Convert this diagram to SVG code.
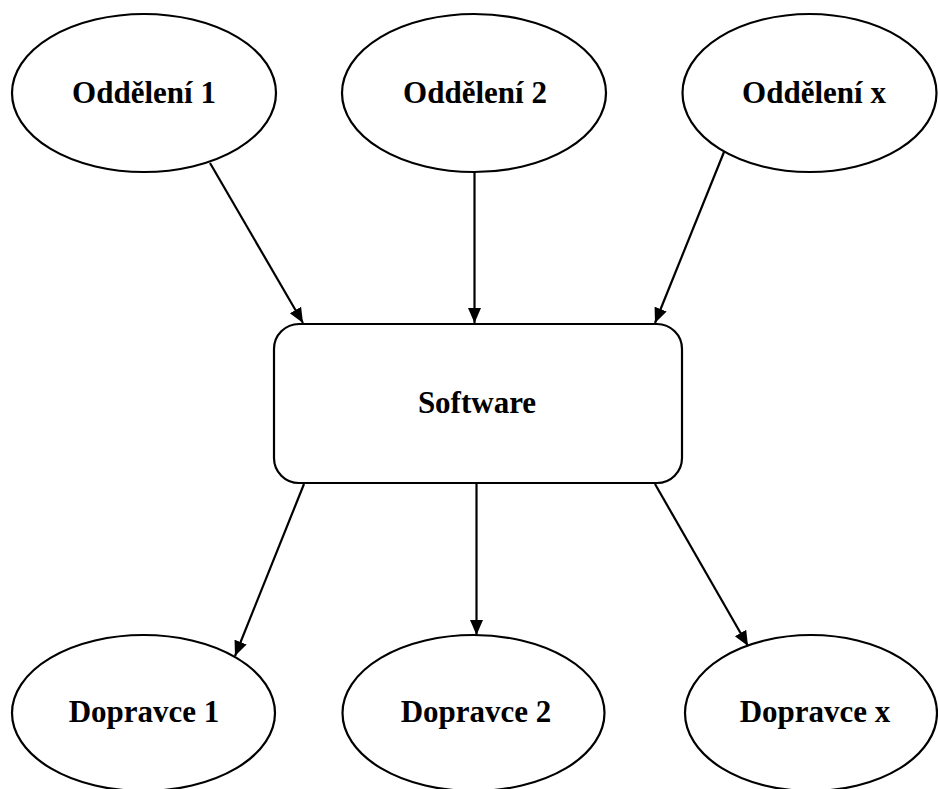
<svg xmlns="http://www.w3.org/2000/svg" width="938" height="789" viewBox="0 0 938 789">
  <style>
    .shape { fill: #ffffff; stroke: #000000; stroke-width: 2.2; }
    .label { font-family: "Liberation Serif", "Times New Roman", serif; font-weight: bold; font-size: 31px; fill: #000000; text-anchor: middle; }
    .edge { fill: none; stroke: #000000; stroke-width: 2.2; marker-end: url(#arrow); }
  </style>
  <defs>
    <marker id="arrow" markerUnits="userSpaceOnUse" markerWidth="16" markerHeight="14" refX="15" refY="6.5" orient="auto">
      <path d="M0,0 L15,6.5 L0,13 z" fill="#000000"/>
    </marker>
  </defs>
  <rect width="938" height="789" fill="#ffffff"/>

  <!-- departments -->
  <g id="oddeleni-1">
    <ellipse class="shape" cx="144" cy="93" rx="132" ry="79"/>
    <text class="label" x="144" y="103">Oddělení 1</text>
  </g>
  <g id="oddeleni-2">
    <ellipse class="shape" cx="474" cy="93" rx="132" ry="79"/>
    <text class="label" x="475" y="103">Oddělení 2</text>
  </g>
  <g id="oddeleni-x">
    <ellipse class="shape" cx="809.5" cy="93" rx="127" ry="79"/>
    <text class="label" x="814" y="103">Oddělení x</text>
  </g>

  <!-- central system -->
  <g id="software">
    <rect class="shape" x="274" y="324" width="408" height="159" rx="25" ry="25"/>
    <text class="label" x="477" y="413">Software</text>
  </g>

  <!-- carriers -->
  <g id="dopravce-1">
    <ellipse class="shape" cx="143.5" cy="713" rx="131.5" ry="78"/>
    <text class="label" x="144" y="722">Dopravce 1</text>
  </g>
  <g id="dopravce-2">
    <ellipse class="shape" cx="473.5" cy="713" rx="131" ry="78"/>
    <text class="label" x="476" y="722">Dopravce 2</text>
  </g>
  <g id="dopravce-x">
    <ellipse class="shape" cx="811" cy="713" rx="126" ry="78"/>
    <text class="label" x="815" y="722">Dopravce x</text>
  </g>

  <!-- connectors -->
  <g id="connectors">
    <line class="edge" x1="210" y1="163" x2="303" y2="323"/>
    <line class="edge" x1="474.5" y1="172" x2="474.5" y2="323"/>
    <line class="edge" x1="724" y1="152" x2="655" y2="323"/>
    <line class="edge" x1="304" y1="484" x2="235" y2="656"/>
    <line class="edge" x1="476.5" y1="484" x2="476.5" y2="635"/>
    <line class="edge" x1="655" y1="484" x2="748" y2="646"/>
  </g>
</svg>
